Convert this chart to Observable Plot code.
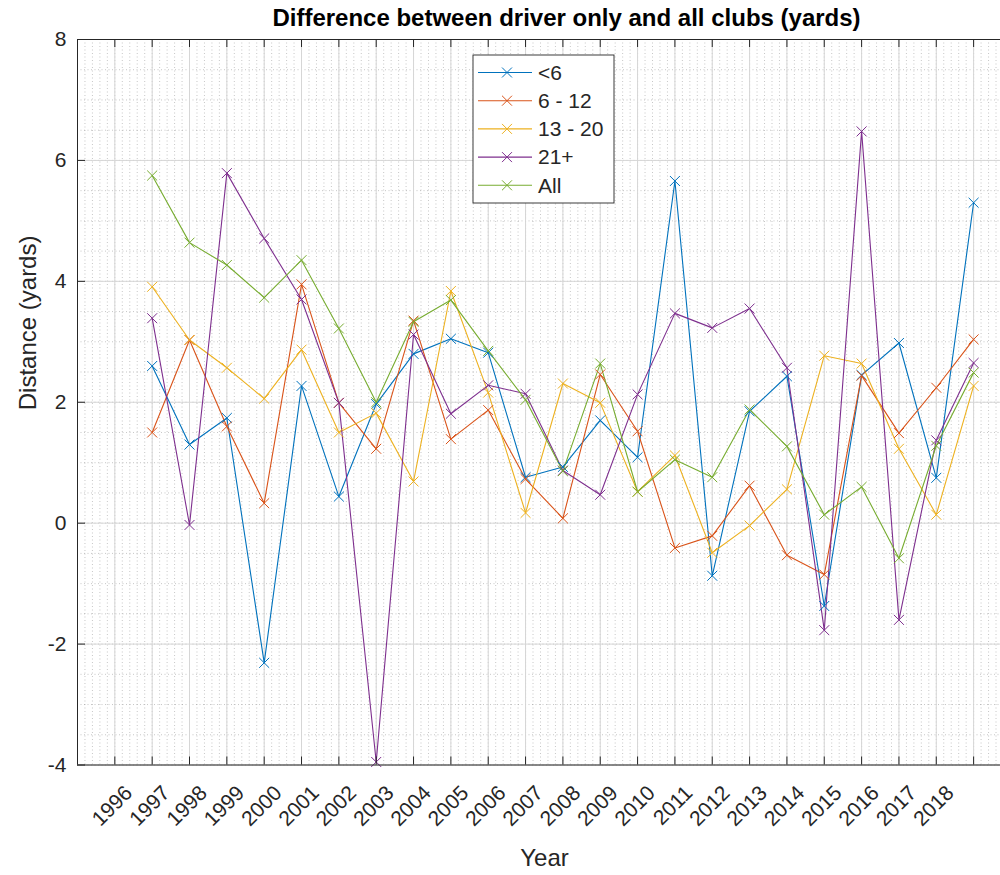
<!DOCTYPE html>
<html>
<head>
<meta charset="utf-8">
<script src="https://cdn.jsdelivr.net/npm/d3@7"></script>
<script src="https://cdn.jsdelivr.net/npm/@observablehq/plot@0.6"></script>
<style>
  body { margin: 0; background: #fff; overflow: hidden; }
  #chart { width: 1000px; height: 875px; }
</style>
</head>
<body>
<div id="chart"></div>
<script>
// ---------- data ----------
const years = [1997, 1998, 1999, 2000, 2001, 2002, 2003, 2004, 2005, 2006, 2007, 2008,
               2009, 2010, 2011, 2012, 2013, 2014, 2015, 2016, 2017, 2018, 2019];

const under6  = [2.60, 1.30, 1.74, -2.31, 2.27, 0.44, 1.97, 2.80, 3.05, 2.82, 0.76, 0.93,
                 1.70, 1.09, 5.66, -0.87, 1.85, 2.43, -1.37, 2.45, 2.98, 0.75, 5.30];
const from6   = [1.50, 3.03, 1.60, 0.33, 3.95, 1.99, 1.23, 3.35, 1.39, 1.87, 0.73, 0.08,
                 2.46, 1.52, -0.41, -0.21, 0.62, -0.53, -0.85, 2.44, 1.49, 2.24, 3.04];
const from13  = [3.91, 3.03, 2.57, 2.06, 2.87, 1.50, 1.82, 0.69, 3.84, 2.16, 0.17, 2.31,
                 1.99, 0.52, 1.12, -0.49, -0.04, 0.56, 2.77, 2.64, 1.23, 0.14, 2.27];
const over21  = [3.39, -0.03, 5.79, 4.71, 3.70, 1.99, -3.95, 3.12, 1.81, 2.28, 2.14, 0.87,
                 0.47, 2.13, 3.47, 3.23, 3.55, 2.57, -1.77, 6.48, -1.60, 1.37, 2.65];
const allHcp  = [5.75, 4.64, 4.27, 3.73, 4.35, 3.22, 2.00, 3.33, 3.69, 2.85, 2.04, 0.86,
                 2.64, 0.52, 1.05, 0.76, 1.88, 1.27, 0.14, 0.60, -0.58, 1.28, 2.49];

const seriesNames = ["<6", "6 - 12", "13 - 20", "21+", "All"];
const seriesValues = [under6, from6, from13, over21, allHcp];
// MATLAB default line colours
const seriesColours = ["#0072BD", "#D95319", "#EDB120", "#7E2F8E", "#77AC30"];

// axis ticks: one per year, labels only run 1996..2018
const xTicks = d3.range(1996, 2020);
const xTickLabels = d3.range(1996, 2019);
const yTicks = [-4, -2, 0, 2, 4, 6, 8];
const xMinor = d3.range(1995, 2020, 0.2);
const yMinor = d3.range(-4, 8.01, 0.5);

const rows = seriesNames.flatMap((s, i) =>
  years.map((yr, j) => ({series: s, year: yr, value: seriesValues[i][j]})));

// ---------- chart ----------
const W = 1000, H = 875;
const mL = 77, mT = 39, mB = 110.5;
const plotW = W - mL, plotH = H - mT - mB;
const font = "'Liberation Sans', Arial, Helvetica, sans-serif";

const chart = Plot.plot({
  width: W, height: H,
  marginLeft: mL, marginRight: 0, marginTop: mT, marginBottom: mB,
  style: {fontFamily: font, background: "#fff", overflow: "visible"},
  x: {domain: [1995, 2019.72], axis: null},
  y: {domain: [-4, 8], axis: null},
  color: {domain: seriesNames, range: seriesColours},
  marks: [
    // minor grid (dotted)
    Plot.ruleX(xMinor, {stroke: "#8a8a8a", strokeOpacity: 0.6, strokeDasharray: "1,2.5", strokeWidth: 0.8}),
    Plot.ruleY(yMinor, {stroke: "#8a8a8a", strokeOpacity: 0.6, strokeDasharray: "1,2.5", strokeWidth: 0.8}),
    // major grid
    Plot.ruleX(xTicks, {stroke: "#d6d6d6", strokeWidth: 1}),
    Plot.ruleY(yTicks, {stroke: "#d6d6d6", strokeWidth: 1}),
    // series
    Plot.line(rows, {x: "year", y: "value", z: "series", stroke: "series", strokeWidth: 1.1}),
    Plot.dot(rows, {x: "year", y: "value", stroke: "series", symbol: "times", r: 4.6, strokeWidth: 1}),
    // axes box (left, top, bottom)
    Plot.ruleX([1995], {stroke: "#262626", strokeWidth: 1}),
    Plot.ruleY([-4, 8], {stroke: "#262626", strokeWidth: 1}),
    // inward ticks
    Plot.tickX(xTicks, {x: d => d, stroke: "#262626", insetTop: plotH - 8}),
    Plot.tickX(xTicks, {x: d => d, stroke: "#262626", insetBottom: plotH - 8}),
    Plot.tickY(yTicks, {y: d => d, stroke: "#262626", insetRight: plotW - 8}),
    // tick labels
    Plot.text(yTicks, {y: d => d, text: d => String(d), frameAnchor: "left", textAnchor: "end",
      dx: -11, fontSize: 21, fill: "#262626"}),
    Plot.text(xTickLabels, {x: d => d, text: d => String(d), frameAnchor: "bottom", textAnchor: "end",
      lineAnchor: "middle", rotate: -45, dx: 14, dy: 24.5, fontSize: 21, fill: "#262626"}),
    // title and axis labels
    Plot.text(["Difference between driver only and all clubs (yards)"], {frameAnchor: "top",
      lineAnchor: "middle", dx: 27.5, dy: -21, fontSize: 24, fontWeight: "bold", fill: "#000"}),
    Plot.text(["Year"], {frameAnchor: "bottom", lineAnchor: "middle", dx: 5.5, dy: 93.5,
      fontSize: 24, fill: "#262626"}),
    Plot.text(["Distance (yards)"], {frameAnchor: "left", lineAnchor: "middle", rotate: -90,
      dx: -49, dy: 8, fontSize: 24, fill: "#262626"})
  ]
});

// ---------- legend box (MATLAB style, inside the axes) ----------
const svg = d3.select(chart);
const lg = svg.append("g").attr("text-anchor", "start");
lg.append("rect").attr("x", 473).attr("y", 55).attr("width", 141).attr("height", 148)
  .attr("fill", "#fff").attr("stroke", "#262626").attr("stroke-width", 0.9);
seriesNames.forEach((s, i) => {
  const cy = 72.5 + 28.2 * i;
  lg.append("line").attr("x1", 478).attr("x2", 532).attr("y1", cy).attr("y2", cy)
    .attr("stroke", seriesColours[i]).attr("stroke-width", 1.1);
  lg.append("path").attr("d", d3.symbol(d3.symbolTimes, Math.PI * 4.6 * 4.6)())
    .attr("transform", `translate(507,${cy})`)
    .attr("fill", "none").attr("stroke", seriesColours[i]).attr("stroke-width", 1);
  lg.append("text").attr("x", 538).attr("y", cy).attr("dy", "0.35em")
    .attr("text-anchor", "start")
    .attr("font-family", font).attr("font-size", 21).attr("fill", "#262626").text(s);
});

document.getElementById("chart").appendChild(chart);
</script>
</body>
</html>
